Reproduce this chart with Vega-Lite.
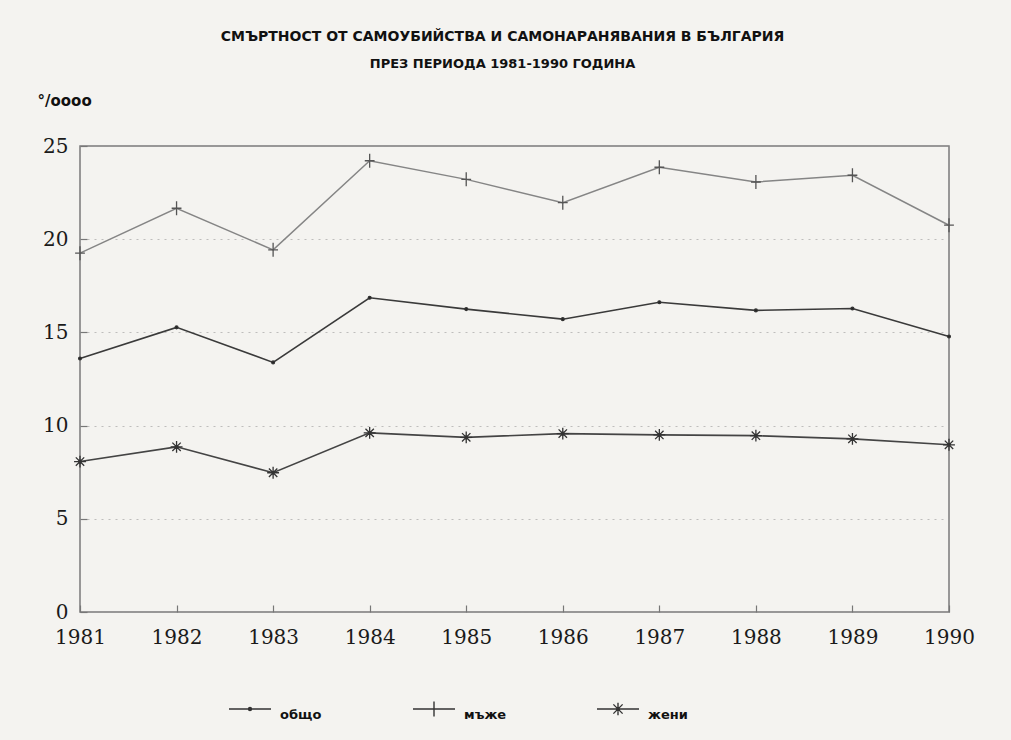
{
  "$schema": "https://vega.github.io/schema/vega-lite/v6.json",
  "width": 869,
  "height": 466,
  "autosize": {"type": "none"},
  "padding": {"left": 80, "top": 146, "right": 62, "bottom": 128},
  "background": "#f4f3f0",
  "title": {
    "text": "СМЪРТНОСТ ОТ САМОУБИЙСТВА И САМОНАРАНЯВАНИЯ В БЪЛГАРИЯ",
    "subtitle": "ПРЕЗ ПЕРИОДА 1981-1990 ГОДИНА",
    "anchor": "middle",
    "frame": "group",
    "dx": -12,
    "font": "DejaVu Sans",
    "fontSize": 14,
    "fontWeight": "bold",
    "color": "#111",
    "subtitleFont": "DejaVu Sans",
    "subtitleFontSize": 13,
    "subtitleFontWeight": "bold",
    "subtitleColor": "#111",
    "subtitlePadding": 14,
    "offset": 22
  },
  "config": {
    "view": {"stroke": "#7a7a7a", "strokeWidth": 1.5},
    "axis": {
      "labelFont": "DejaVu Serif",
      "labelFontSize": 20,
      "labelColor": "#1a1a1a",
      "domain": false,
      "tickColor": "#777",
      "tickWidth": 1.2
    }
  },
  "data": {
    "values": [
      {"year": 1981, "series": "общо", "value": 13.6},
      {"year": 1982, "series": "общо", "value": 15.27},
      {"year": 1983, "series": "общо", "value": 13.39},
      {"year": 1984, "series": "общо", "value": 16.86},
      {"year": 1985, "series": "общо", "value": 16.25},
      {"year": 1986, "series": "общо", "value": 15.71},
      {"year": 1987, "series": "общо", "value": 16.62},
      {"year": 1988, "series": "общо", "value": 16.18},
      {"year": 1989, "series": "общо", "value": 16.28},
      {"year": 1990, "series": "общо", "value": 14.78},
      {"year": 1981, "series": "мъже", "value": 19.25},
      {"year": 1982, "series": "мъже", "value": 21.66},
      {"year": 1983, "series": "мъже", "value": 19.43},
      {"year": 1984, "series": "мъже", "value": 24.21},
      {"year": 1985, "series": "мъже", "value": 23.21},
      {"year": 1986, "series": "мъже", "value": 21.96},
      {"year": 1987, "series": "мъже", "value": 23.86},
      {"year": 1988, "series": "мъже", "value": 23.07},
      {"year": 1989, "series": "мъже", "value": 23.43},
      {"year": 1990, "series": "мъже", "value": 20.75},
      {"year": 1981, "series": "жени", "value": 8.07},
      {"year": 1982, "series": "жени", "value": 8.86},
      {"year": 1983, "series": "жени", "value": 7.47},
      {"year": 1984, "series": "жени", "value": 9.61},
      {"year": 1985, "series": "жени", "value": 9.37},
      {"year": 1986, "series": "жени", "value": 9.57},
      {"year": 1987, "series": "жени", "value": 9.5},
      {"year": 1988, "series": "жени", "value": 9.46},
      {"year": 1989, "series": "жени", "value": 9.29},
      {"year": 1990, "series": "жени", "value": 8.97}
    ]
  },
  "encoding": {
    "x": {
      "field": "year",
      "type": "quantitative",
      "scale": {"domain": [1981, 1990], "nice": false, "zero": false},
      "axis": {
        "title": null,
        "values": [1981, 1982, 1983, 1984, 1985, 1986, 1987, 1988, 1989, 1990],
        "format": "d",
        "grid": false,
        "tickSize": -7,
        "labelPadding": 22,
        "labelFlush": false
      }
    },
    "y": {
      "field": "value",
      "type": "quantitative",
      "scale": {"domain": [0, 25], "nice": false},
      "axis": {
        "values": [0, 5, 10, 15, 20, 25],
        "title": "°/oooo",
        "titleAngle": 0,
        "titleAlign": "left",
        "titleBaseline": "alphabetic",
        "titleX": -43,
        "titleY": -41,
        "titleFont": "DejaVu Sans",
        "titleFontSize": 15,
        "titleFontWeight": "bold",
        "titleColor": "#111",
        "grid": true,
        "gridColor": "#9a9a9a",
        "gridDash": [2, 5],
        "gridOpacity": 0.6,
        "tickSize": -7,
        "labelPadding": 19
      }
    }
  },
  "layer": [
    {
      "transform": [{"filter": "datum.series === 'общо'"}],
      "mark": {"type": "line", "strokeWidth": 1.6, "stroke": "#3a3a3a"},
      "encoding": {}
    },
    {
      "transform": [{"filter": "datum.series === 'мъже'"}],
      "mark": {"type": "line", "strokeWidth": 1.5, "stroke": "#858585"},
      "encoding": {}
    },
    {
      "transform": [{"filter": "datum.series === 'жени'"}],
      "mark": {"type": "line", "strokeWidth": 1.6, "stroke": "#444444"},
      "encoding": {}
    },
    {
      "transform": [{"filter": "datum.series === 'общо'"}],
      "mark": {"type": "point", "filled": true, "fill": "#222", "stroke": "#333", "strokeWidth": 1.3, "size": 196, "opacity": 1,
               "shape": "M-0.2,0A0.2,0.2,0,1,0,0.2,0A0.2,0.2,0,1,0,-0.2,0Z"}
    },
    {
      "transform": [{"filter": "datum.series === 'мъже'"}],
      "mark": {"type": "point", "filled": true, "fill": "#222", "stroke": "#555", "strokeWidth": 1.3, "size": 196, "opacity": 1,
               "shape": "M-0.7,0H0.7M0,-1V1"}
    },
    {
      "transform": [{"filter": "datum.series === 'жени'"}],
      "mark": {"type": "point", "filled": true, "fill": "#222", "stroke": "#333", "strokeWidth": 1.3, "size": 196, "opacity": 1,
               "shape": "M-0.85,0H0.85M0,-0.85V0.85M-0.6,-0.6L0.6,0.6M-0.6,0.6L0.6,-0.6M-0.2,0A0.2,0.2,0,1,0,0.2,0A0.2,0.2,0,1,0,-0.2,0Z"}
    },
    {
      "transform": [{"filter": "false"}],
      "mark": {"type": "point", "filled": false, "stroke": "#333", "strokeWidth": 1.4, "opacity": 1},
      "encoding": {
        "shape": {
          "field": "series",
          "type": "nominal",
          "sort": ["общо", "мъже", "жени"],
          "scale": {
            "domain": ["общо", "мъже", "жени"],
            "range": [
              "M-1,0H1M-0.07,0A0.07,0.07,0,1,0,0.07,0A0.07,0.07,0,1,0,-0.07,0ZM-0.03,0A0.03,0.03,0,1,0,0.03,0A0.03,0.03,0,1,0,-0.03,0ZM0,-0.4L0,-0.4M0,0.4L0,0.4",
              "M-1,0H1M0,-0.36V0.36M0,-0.4L0,-0.4M0,0.4L0,0.4",
              "M-1,0H1M0,-0.3V0.3M-0.22,-0.22L0.22,0.22M-0.22,0.22L0.22,-0.22M-0.07,0A0.07,0.07,0,1,0,0.07,0A0.07,0.07,0,1,0,-0.07,0ZM0,-0.4L0,-0.4M0,0.4L0,0.4"
            ]
          },
          "legend": {
            "title": null,
            "orient": "none",
            "direction": "horizontal",
            "legendX": 148,
            "legendY": 541,
            "symbolSize": 1764,
            "symbolStrokeWidth": 1.4,
            "symbolStrokeColor": "#333",
            "labelOffset": 8,
            "labelBaseline": "top",
            "labelFont": "DejaVu Sans",
            "labelFontSize": 13,
            "labelFontWeight": "bold",
            "labelColor": "#111",
            "gridAlign": "all",
            "columnPadding": 87
          }
        }
      }
    }
  ]
}
